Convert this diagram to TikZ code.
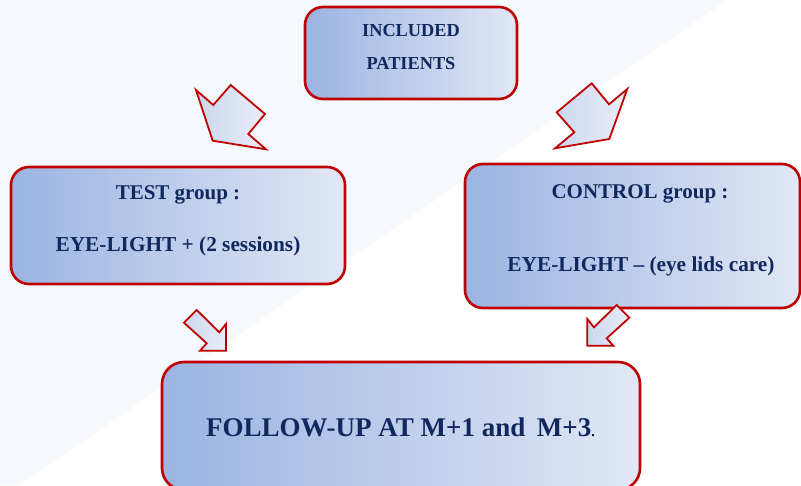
\documentclass[tikz,border=0pt]{standalone}
\usepackage{fontspec}
\setmainfont{Liberation Serif}
\definecolor{boxL}{RGB}{155,180,226}
\definecolor{boxR}{RGB}{225,231,245}
\definecolor{redb}{RGB}{192,0,0}
\definecolor{navy}{RGB}{16,40,94}
\definecolor{bgblue}{RGB}{245,249,253}
\definecolor{arrL}{RGB}{203,215,239}
\definecolor{arrR}{RGB}{233,237,247}
\tikzset{
  box/.style={draw=redb, line width=2.6pt, rounded corners=18pt, left color=boxL, right color=boxR, inner sep=0pt},
  blockarrow/.style={draw=redb, line width=1.8pt, line join=miter, left color=arrL, right color=arrR},
  txt/.style={text=navy, anchor=base, inner sep=0pt}
}
\begin{document}
\begin{tikzpicture}[x=1pt,y=-1pt]
\useasboundingbox (0,0) rectangle (801,485);
\fill[white] (0,0) rectangle (801,485);
\fill[bgblue] (0,0) -- (727,0) -- (19,485) -- (0,485) -- cycle;
% boxes
\node[box, minimum width=212pt, minimum height=92pt] (inc) at (411,53) {};
\node[box, minimum width=334pt, minimum height=117pt] (test) at (178,225.5) {};
\node[box, minimum width=335pt, minimum height=144pt] (ctrl) at (632.5,236) {};
\node[box, minimum width=478pt, minimum height=128pt, rounded corners=22pt] (fu) at (401,426) {};
% texts
\node[txt, font=\fontsize{18.3}{22}\selectfont\bfseries] (t1) at (411,36.7) {INCLUDED};
\node[txt, font=\fontsize{18.3}{22}\selectfont\bfseries] (t2) at (411,69) {PATIENTS};
\node[txt, font=\fontsize{21}{24}\selectfont\bfseries] (t3) at (178,199.3) {TEST group :};
\node[txt, font=\fontsize{21.3}{24}\selectfont\bfseries] (t4) at (178,251.7) {EYE-LIGHT + (2 sessions)};
\node[txt, font=\fontsize{21}{24}\selectfont\bfseries] (t5) at (640,198.3) {CONTROL group :};
\node[txt, font=\fontsize{21.3}{24}\selectfont\bfseries] (t6) at (641,271.7) {EYE-LIGHT -- (eye lids care)};
\node[txt, font=\fontsize{27}{32}\selectfont\bfseries] (t7) at (400.5,436) {FOLLOW-UP AT M+1 and\hspace{0.43em}M+3{\color{black}\fontsize{14}{14}\selectfont .}};
% block arrows
\draw[blockarrow] (196,90) -- (213.3,105) -- (230.7,85) -- (265,114) -- (248.3,134) -- (266,149.3) -- (212.7,140.7) -- cycle;
\draw[blockarrow] (591.7,83.3) -- (609,104.3) -- (627.3,89) -- (609.3,139) -- (555,148.3) -- (574.3,132.3) -- (556.7,112.3) -- cycle;
\draw[blockarrow] (184,322.7) -- (196.7,310) -- (219.3,332.3) -- (226,324) -- (226,350.7) -- (200,350.7) -- (206.7,343.3) -- cycle;
\draw[blockarrow] (616.7,305) -- (629.3,317.7) -- (606.7,338.3) -- (613.3,345.7) -- (587.3,345.7) -- (587.3,319) -- (594,327.3) -- cycle;
\end{tikzpicture}
\end{document}
